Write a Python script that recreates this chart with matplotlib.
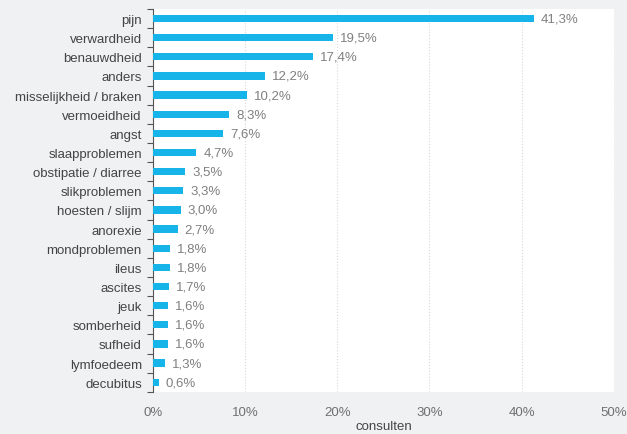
import numpy as np
import matplotlib.pyplot as plt
from matplotlib.ticker import FixedLocator

plt.rcParams['font.family'] = ['Liberation Sans', 'DejaVu Sans']

klachten = ['pijn', 'verwardheid', 'benauwdheid', 'anders', 'misselijkheid / braken',
            'vermoeidheid', 'angst', 'slaapproblemen', 'obstipatie / diarree',
            'slikproblemen', 'hoesten / slijm', 'anorexie', 'mondproblemen', 'ileus',
            'ascites', 'jeuk', 'somberheid', 'sufheid', 'lymfoedeem', 'decubitus']
percentages = [41.3, 19.5, 17.4, 12.2, 10.2, 8.3, 7.6, 4.7, 3.5, 3.3, 3.0, 2.7,
               1.8, 1.8, 1.7, 1.6, 1.6, 1.6, 1.3, 0.6]
xticks = [0, 10, 20, 30, 40, 50]

bg = '#f0f1f3'
fs = 9.5
fig = plt.figure(figsize=(6.27, 4.35), dpi=100, facecolor=bg)
ax = fig.add_axes([0.244, 0.097, 0.735, 0.880])
ax.set_facecolor('white')

y = np.arange(len(klachten))[::-1]
ax.barh(y, percentages, height=0.38, color='#16b4e8', zorder=3)

for yi, p in zip(y, percentages):
    ax.text(p + 0.75, yi, f'{p:.1f}%'.replace('.', ','), va='center', ha='left',
            fontsize=fs, color='#808080')

ax.set_xlim(0, 50)
ax.set_ylim(-0.5, len(klachten) - 0.5)
ax.set_xticks(xticks)
ax.set_xticklabels([f'{t}%' for t in xticks], fontsize=fs, color='#707070')
ax.set_yticks(y)
ax.set_yticklabels(klachten, fontsize=fs, color='#444444')
ax.yaxis.set_minor_locator(FixedLocator(np.arange(-0.5, len(klachten), 1.0)))
ax.tick_params(axis='y', which='major', length=0, pad=8)
ax.tick_params(axis='y', which='minor', length=4, color='#555555', width=0.8)
ax.tick_params(axis='x', length=0, pad=10)
ax.set_xlabel('consulten', fontsize=fs, color='#444444', labelpad=2)

ax.grid(axis='x', linestyle=':', color='#d8d8d8', linewidth=0.8, zorder=0)
for s in ['top', 'right', 'bottom']:
    ax.spines[s].set_visible(False)
ax.spines['left'].set_color('#555555')
ax.spines['left'].set_linewidth(0.8)

fig.savefig('out.png', dpi=100, facecolor=bg)
